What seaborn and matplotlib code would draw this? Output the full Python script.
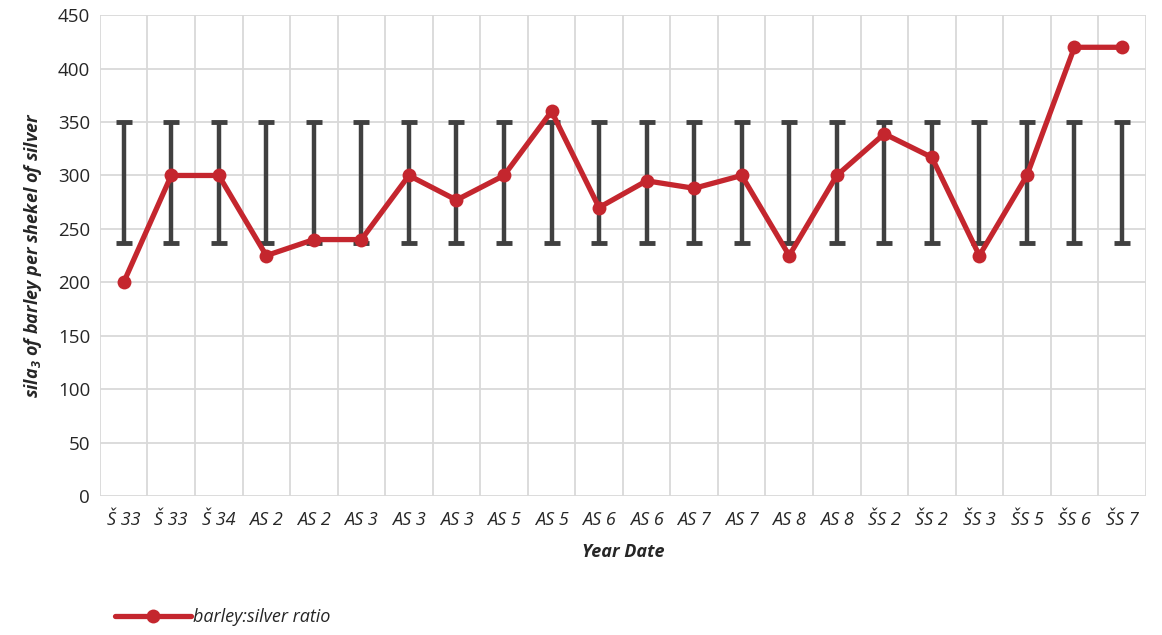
import matplotlib
matplotlib.use("Agg")
import numpy as np
import pandas as pd
import matplotlib.pyplot as plt
import seaborn as sns

# data
year_dates = ["Š 33", "Š 33", "Š 34", "AS 2", "AS 2", "AS 3", "AS 3", "AS 3",
              "AS 5", "AS 5", "AS 6", "AS 6", "AS 7", "AS 7", "AS 8", "AS 8",
              "ŠS 2", "ŠS 2", "ŠS 3", "ŠS 5", "ŠS 6", "ŠS 7"]
ratio = [200, 300, 300, 225, 240, 240, 300, 277, 300, 360, 270, 295,
         288, 300, 225, 300, 339, 317, 225, 300, 420, 420]
band_low = [237] * len(year_dates)
band_high = [350] * len(year_dates)

sns.set_style("white")
plt.rcParams['font.family'] = ['Open Sans', 'DejaVu Sans']
plt.rcParams['mathtext.default'] = 'regular'

df = pd.DataFrame({'pos': np.arange(len(year_dates)), 'ratio': ratio})

fig = plt.figure(figsize=(11.62, 6.35), dpi=100)
ax = fig.add_axes([0.086, 0.219, 0.9, 0.757])

# grid (Excel style: vertical lines between categories)
ax.set_xlim(-0.5, len(year_dates) - 0.5)
ax.set_ylim(0, 450)
ax.set_yticks(range(0, 451, 50))
ax.set_xticks(df['pos'])
ax.set_xticks(np.arange(-0.5, len(year_dates), 1), minor=True)
ax.grid(axis='y', which='major', color='#d9d9d9', lw=1.3)
ax.grid(axis='x', which='minor', color='#d9d9d9', lw=1.3)
ax.grid(axis='x', which='major', visible=False)
ax.set_axisbelow(True)
for s in ax.spines.values():
    s.set_visible(False)
ax.tick_params(which='both', length=0)

# error bars (mean +- sd band)
mid = (np.array(band_low) + np.array(band_high)) / 2
half = (np.array(band_high) - np.array(band_low)) / 2
ax.errorbar(df['pos'], mid, yerr=half, fmt='none', ecolor='#404040',
            elinewidth=3.2, capsize=5.8, capthick=3.5, zorder=2)

sns.lineplot(data=df, x='pos', y='ratio', ax=ax, color='#c4262e', lw=3.8,
             marker='o', markersize=10, markeredgewidth=0,
             label='barley:silver ratio', legend=False, zorder=3)

ax.set_xticklabels(year_dates, fontsize=13, style='italic', color='#262626')
for lab in ax.get_yticklabels():
    lab.set_fontsize(13.5)
    lab.set_color('#262626')
ax.tick_params(axis='x', pad=11)
ax.tick_params(axis='y', pad=7)

ax.set_xlabel('Year Date', fontsize=13, style='italic', fontweight='bold',
              color='#262626', labelpad=10)
ax.set_ylabel(r'sila$_3$ of barley per shekel of silver', fontsize=13,
              style='italic', fontweight='bold', color='#262626', labelpad=10)

handles, labels = ax.get_legend_handles_labels()
leg = fig.legend(handles, labels, loc='lower left', bbox_to_anchor=(0.085, -0.012),
                 frameon=False, handlelength=4.2, handletextpad=0.1,
                 prop={'size': 13, 'style': 'italic'})
for t in leg.get_texts():
    t.set_color('#262626')

plt.savefig('out.png', dpi=100)
